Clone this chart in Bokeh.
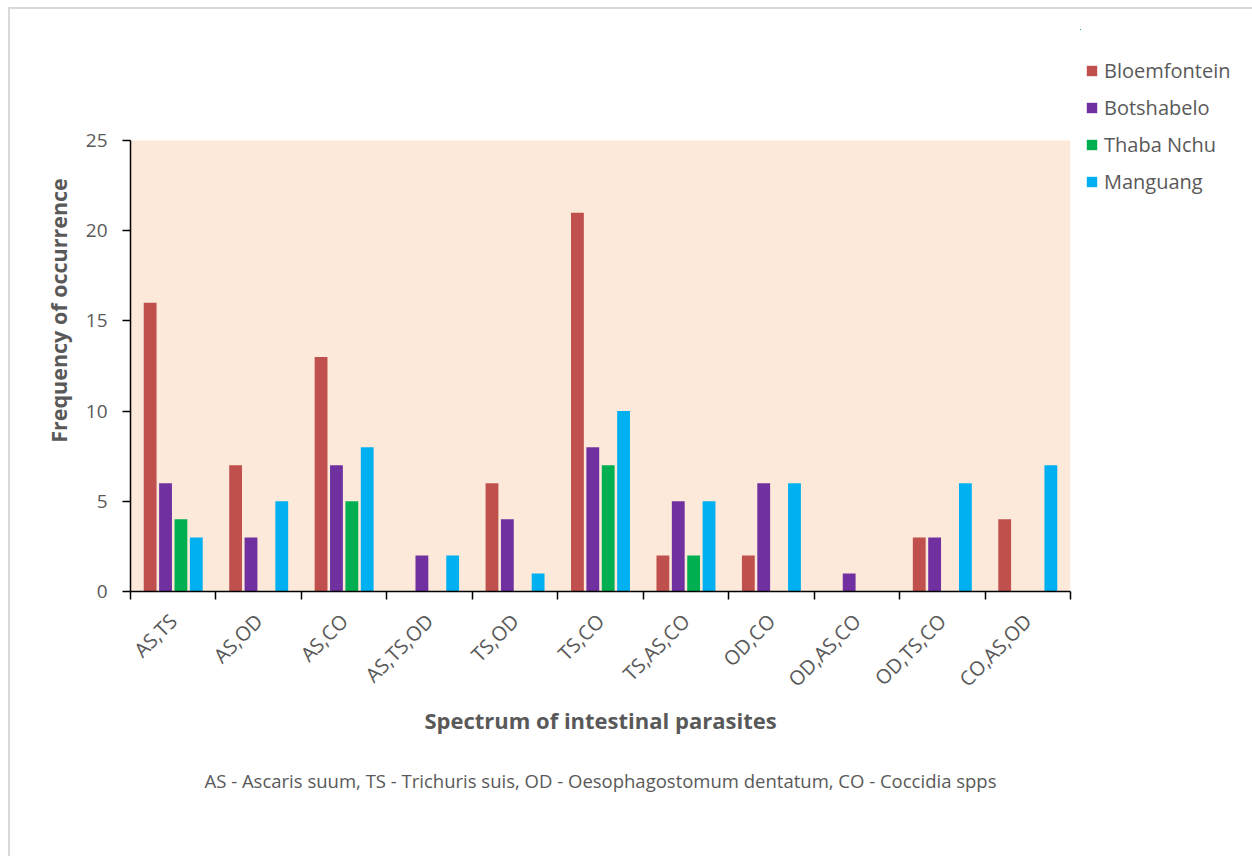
import numpy as np
from bokeh.plotting import figure
from bokeh.layouts import row
from bokeh.models import (ColumnDataSource, FixedTicker, Legend, LegendItem,
                          Range1d, LinearAxis, BoxAnnotation, Title)
from bokeh.transform import dodge
from bokeh.embed import file_html
from bokeh.resources import INLINE

# Parasite combinations and occurrence counts per site
combos = ["AS,TS", "AS,OD", "AS,CO", "AS,TS,OD", "TS,OD", "TS,CO",
          "TS,AS,CO", "OD,CO", "OD,AS,CO", "OD,TS,CO", "CO,AS,OD"]
bloemfontein = [16, 7, 13, 0, 6, 21, 2, 2, 0, 3, 4]
botshabelo = [6, 3, 7, 2, 4, 8, 5, 6, 1, 3, 0]
thaba_nchu = [4, 0, 5, 0, 0, 7, 2, 0, 0, 0, 0]
manguang = [3, 5, 8, 2, 1, 10, 5, 6, 0, 6, 7]

sites = ["Bloemfontein", "Botshabelo", "Thaba Nchu", "Manguang"]
colors = ["#C0504D", "#7030A0", "#00B050", "#00B0F0"]
y_ticks = [0, 5, 10, 15, 20, 25]
y_max = 25

FONT = "Open Sans"
TEXT_COL = "#595959"

n = len(combos)
centers = np.arange(n) + 0.5
source = ColumnDataSource(dict(
    x=centers,
    Bloemfontein=bloemfontein,
    Botshabelo=botshabelo,
    **{"Thaba Nchu": thaba_nchu},
    Manguang=manguang,
))

# main chart geometry (legend lives in a narrow panel to the right)
W, H = 1252, 856
left, right, top, bottom = 130, 1070, 29, 591
shade_top = 140
main_w = right + 10
y_end = y_max * (bottom - top) / (bottom - shade_top)

p = figure(width=main_w, height=H, output_backend="svg", toolbar_location=None,
           x_range=Range1d(0, n), y_range=Range1d(0, y_end),
           min_border_left=left, min_border_right=main_w - right,
           min_border_top=top, min_border_bottom=H - bottom)
p.background_fill_color = "white"
p.background_fill_alpha = 0.0
p.border_fill_alpha = 0.0
p.outline_line_color = None
p.xgrid.visible = False
p.ygrid.visible = False

# shaded plot area
p.add_layout(BoxAnnotation(left=0, right=n, bottom=0, top=y_max,
                           fill_color="#FDE9D9", fill_alpha=1.0,
                           line_color=None, level="underlay"))

offsets = [-0.27, -0.09, 0.09, 0.27]
for site, col, off in zip(sites, colors, offsets):
    p.vbar(x=dodge("x", off), top=site, width=0.15, source=source,
           fill_color=col, line_color=None)

# x axis: labels at group centres, small ticks at group boundaries
xa = p.xaxis[0]
xa.ticker = FixedTicker(ticks=list(centers), minor_ticks=list(range(n + 1)))
xa.major_label_overrides = {float(c): name for c, name in zip(centers, combos)}
xa.major_label_orientation = np.pi / 4
xa.major_tick_out = 0
xa.major_tick_in = 0
xa.minor_tick_out = 8
xa.minor_tick_in = 0
xa.minor_tick_line_color = "black"
xa.minor_tick_line_width = 1.5
xa.axis_line_color = "black"
xa.axis_line_width = 1.5
xa.major_label_standoff = 18
xa.major_label_text_font = FONT
xa.major_label_text_font_size = "20px"
xa.major_label_text_color = TEXT_COL
xa.axis_label = "Spectrum of intestinal parasites"
xa.axis_label_text_font = FONT
xa.axis_label_text_font_style = "bold"
xa.axis_label_text_font_size = "22px"
xa.axis_label_text_color = TEXT_COL
xa.axis_label_standoff = 0

# abbreviation key under the axis title
key = LinearAxis(ticker=FixedTicker(ticks=[]),
                 axis_line_color=None, major_tick_line_color=None,
                 minor_tick_line_color=None, major_label_standoff=0,
                 axis_label="AS - Ascaris suum, TS - Trichuris suis, OD - Oesophagostomum dentatum, CO - Coccidia spps",
                 axis_label_text_font=FONT, axis_label_text_font_size="18.5px",
                 axis_label_text_font_style="normal",
                 axis_label_text_color=TEXT_COL, axis_label_standoff=30)
p.add_layout(key, "below")

ya = p.yaxis[0]
ya.bounds = (0, y_max)
ya.ticker = FixedTicker(ticks=y_ticks)
ya.minor_tick_line_color = None
ya.major_tick_out = 8
ya.major_tick_in = 0
ya.major_tick_line_color = "black"
ya.major_tick_line_width = 1.5
ya.axis_line_color = "black"
ya.axis_line_width = 1.5
ya.major_label_standoff = 15
ya.major_label_text_font = FONT
ya.major_label_text_font_size = "19px"
ya.major_label_text_color = TEXT_COL

ytitle = Title(text="Frequency of occurrence", align="center",
               text_font=FONT, text_font_size="21.5px", text_font_style="bold",
               text_color=TEXT_COL, standoff=20)
p.add_layout(ytitle, "left")

# legend panel; a row aligns frame edges, so use the same top/bottom borders
leg_w = W - main_w
q = figure(width=leg_w, height=H, output_backend="svg", toolbar_location=None,
           x_range=Range1d(1000, 1001), y_range=Range1d(-1000, -999),
           x_axis_type=None, y_axis_type=None,
           min_border_left=0, min_border_right=0,
           min_border_top=top, min_border_bottom=H - bottom)
q.background_fill_alpha = 0.0
q.border_fill_alpha = 0.0
q.outline_line_color = None
q.xgrid.visible = False
q.ygrid.visible = False

# swatch renderers share the data; the panel's ranges keep the bars out of view
swatches = [q.vbar(x=dodge("x", off), top=site, width=0.15, source=source,
                   fill_color=col, line_color=None)
            for site, col, off in zip(sites, colors, offsets)]
legend_top = 57
legend_h = 4 * 27 + 3 * 10
legend = Legend(items=[LegendItem(label=s, renderers=[r]) for s, r in zip(sites, swatches)],
                location=(1085 - main_w, bottom - (legend_top + legend_h)),
                orientation="vertical",
                glyph_width=13, glyph_height=13, label_standoff=6,
                label_height=27, spacing=10, padding=0, margin=0,
                border_line_color=None, background_fill_alpha=0.0,
                label_text_font=FONT, label_text_font_size="20px",
                label_text_color=TEXT_COL)
q.add_layout(legend)

layout = row(p, q)
# thin grey frame around the whole chart
layout.styles = {"background-color": "white",
                 "box-shadow": "inset 8px 7px 0 0 white, inset 10px 9px 0 0 #d9d9d9"}

open("out.html", "w").write(file_html(layout, INLINE))
